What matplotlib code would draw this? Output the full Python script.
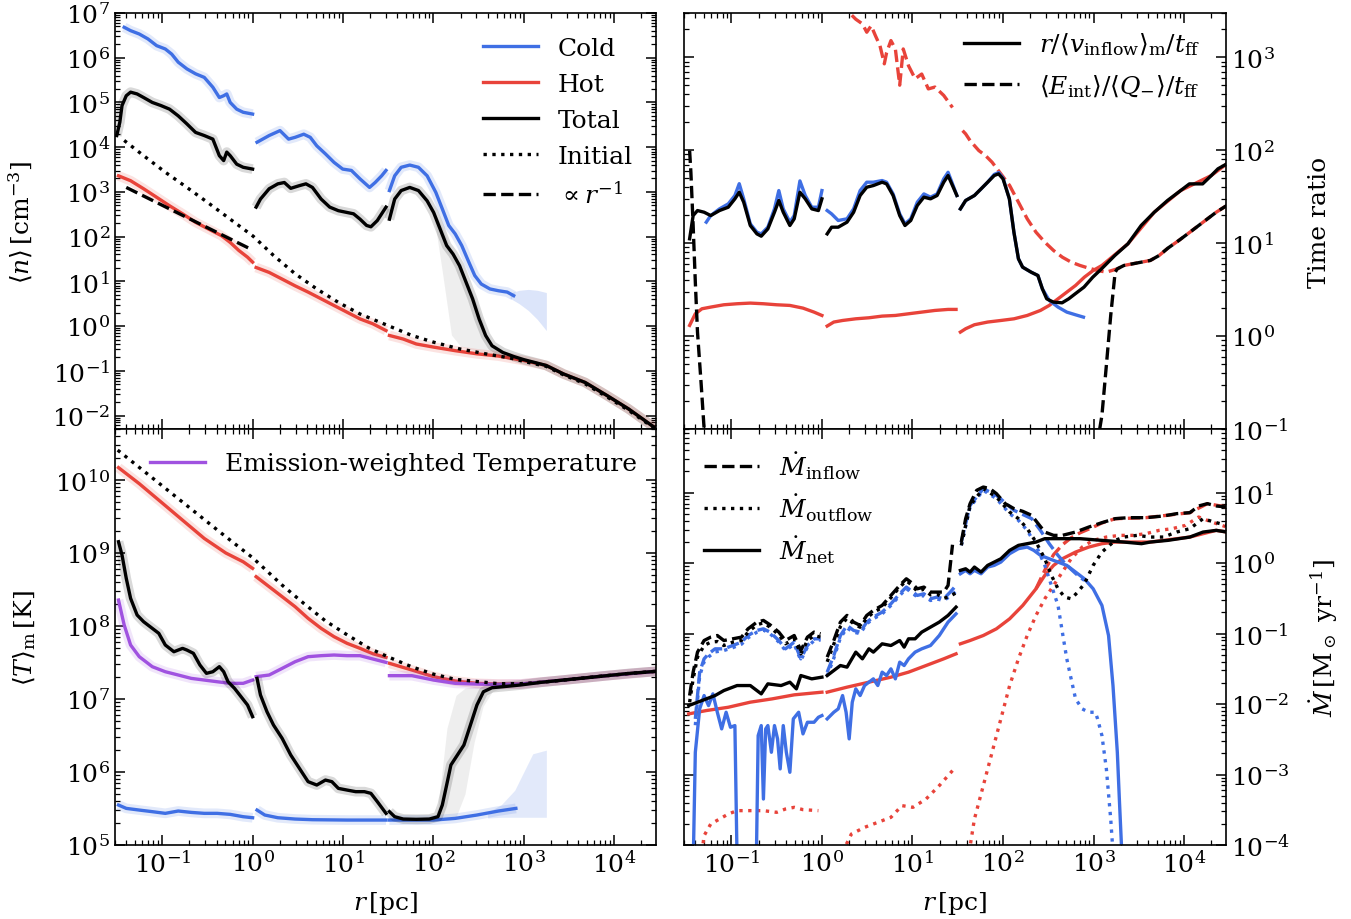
import numpy as np
import matplotlib
matplotlib.use('Agg')
import matplotlib.pyplot as plt
from matplotlib.ticker import LogLocator, NullFormatter, FixedLocator

plt.rcParams['font.family'] = ['DejaVu Serif']
plt.rcParams['mathtext.fontset'] = 'dejavuserif'
plt.rcParams['axes.linewidth'] = 1.2

BLUE = '#3f6fe4'
RED = '#e8433a'
PURPLE = '#a052e0'
FS = 18

# all values below are log10(r [pc]) and log10(quantity)
# zones: a = 0.03-1 pc, b = 1-30 pc, c = 30 pc - 3e4 pc

# ---- density <n> ----
n_cold_a_x = [-1.421, -1.35, -1.254, -1.158, -1.062, -0.966, -0.895, -0.823, -0.727, -0.631, -0.535, -0.44, -0.368, -0.32, -0.286, -0.248, -0.176, -0.104, 0.0]
n_cold_a_y = [6.68, 6.605, 6.53, 6.42, 6.27, 6.195, 6.08, 5.90, 5.75, 5.64, 5.56, 5.34, 5.11, 5.15, 5.19, 5.0, 4.85, 4.78, 4.74]
n_cold_b_x = [0.049, 0.183, 0.303, 0.398, 0.47, 0.566, 0.638, 0.71, 0.806, 0.901, 0.997, 1.093, 1.189, 1.294, 1.356, 1.428, 1.476]
n_cold_b_y = [4.11, 4.26, 4.37, 4.18, 4.22, 4.29, 4.22, 4.03, 3.85, 3.66, 3.51, 3.48, 3.29, 3.10, 3.21, 3.36, 3.48]
n_cold_c_x = [1.514, 1.572, 1.644, 1.739, 1.835, 1.931, 2.027, 2.099, 2.17, 2.242, 2.314, 2.386, 2.458, 2.53, 2.626, 2.721, 2.817, 2.889]
n_cold_c_y = [3.03, 3.36, 3.55, 3.60, 3.55, 3.36, 2.99, 2.62, 2.25, 2.06, 1.80, 1.46, 1.13, 0.94, 0.83, 0.79, 0.76, 0.68]
n_cold_band_x = [2.85, 2.95, 3.05, 3.15, 3.25]
n_cold_band_lo = [0.62, 0.5, 0.35, 0.15, -0.1]
n_cold_band_hi = [0.74, 0.8, 0.82, 0.8, 0.75]

n_tot_a_x = [-1.503, -1.469, -1.445, -1.398, -1.35, -1.278, -1.206, -1.11, -1.014, -0.919, -0.823, -0.727, -0.631, -0.535, -0.44, -0.368, -0.32, -0.286, -0.248, -0.176, -0.104, 0.0]
n_tot_a_y = [4.26, 4.56, 4.93, 5.15, 5.23, 5.19, 5.11, 5.0, 4.93, 4.85, 4.70, 4.52, 4.33, 4.26, 4.18, 3.81, 3.70, 3.89, 3.81, 3.62, 3.55, 3.51]
n_tot_b_x = [0.039, 0.087, 0.183, 0.279, 0.351, 0.422, 0.518, 0.59, 0.662, 0.758, 0.853, 0.949, 1.045, 1.117, 1.189, 1.261, 1.309, 1.38, 1.476]
n_tot_b_y = [2.66, 2.84, 3.07, 3.18, 3.21, 3.08, 3.14, 3.18, 3.10, 2.84, 2.66, 2.58, 2.54, 2.51, 2.39, 2.25, 2.22, 2.36, 2.66]
n_tot_c_x = [1.514, 1.572, 1.644, 1.739, 1.835, 1.931, 2.003, 2.075, 2.147, 2.218, 2.29, 2.362, 2.434, 2.506, 2.578, 2.649, 2.769, 2.889, 3.0, 3.248, 3.44, 3.679, 3.919, 4.158, 4.47]
n_tot_c_y = [2.39, 2.84, 3.03, 3.10, 3.03, 2.80, 2.54, 2.17, 1.80, 1.61, 1.35, 0.98, 0.61, 0.16, -0.21, -0.44, -0.59, -0.68, -0.75, -0.88, -1.07, -1.26, -1.55, -1.85, -2.30]
n_tot_band_x = [2.0, 2.1, 2.2, 2.3, 2.4, 2.5, 2.6, 2.7, 2.8]
n_tot_band_lo = [2.54, 1.2, -0.2, -0.45, -0.52, -0.56, -0.6, -0.64, -0.68]
n_tot_band_hi = [2.6, 2.2, 1.7, 1.3, 0.9, 0.4, -0.25, -0.55, -0.62]

n_hot_a_x = [-1.484, -1.35, -1.206, -1.062, -0.919, -0.775, -0.631, -0.488, -0.344, -0.248, -0.152, -0.056, 0.0]
n_hot_a_y = [3.36, 3.25, 3.07, 2.88, 2.69, 2.51, 2.32, 2.17, 2.02, 1.87, 1.69, 1.54, 1.43]
n_hot_b_x = [0.039, 0.183, 0.327, 0.47, 0.614, 0.758, 0.901, 1.045, 1.189, 1.332, 1.476]
n_hot_b_y = [1.31, 1.20, 1.05, 0.90, 0.76, 0.61, 0.46, 0.31, 0.16, 0.05, -0.10]
n_hot_c_x = [1.514, 1.667, 1.811, 2.003, 2.242, 2.482, 2.721, 3.0, 3.248, 3.44, 3.679, 3.919, 4.158, 4.47]
n_hot_c_y = [-0.21, -0.29, -0.40, -0.47, -0.55, -0.62, -0.67, -0.77, -0.88, -1.07, -1.26, -1.55, -1.85, -2.30]

n_init_x = [-1.421, -1.206, -0.966, -0.727, -0.488, -0.248, 0.006, 0.231, 0.47, 0.71, 0.949, 1.189, 1.476, 1.763, 2.003, 2.29, 2.578, 2.865, 3.0, 3.248, 3.44, 3.679, 3.919, 4.158, 4.47]
n_init_y = [4.15, 3.81, 3.44, 3.10, 2.75, 2.39, 2.01, 1.58, 1.17, 0.83, 0.53, 0.27, 0.03, -0.21, -0.36, -0.51, -0.62, -0.72, -0.79, -0.90, -1.09, -1.29, -1.58, -1.88, -2.32]
n_pow_x = [-1.398, 0.0]
n_pow_y = [3.10, 1.70]

# ---- time ratios ----
t_in_a_x = [-1.461, -1.422, -1.374, -1.301, -1.228, -1.131, -1.034, -0.961, -0.913, -0.864, -0.791, -0.718, -0.67, -0.597, -0.524, -0.476, -0.427, -0.354, -0.306, -0.243, -0.184, -0.112, -0.039, 0.0]
t_in_a_y = [1.047, 1.297, 1.351, 1.333, 1.297, 1.351, 1.387, 1.477, 1.548, 1.441, 1.19, 1.10, 1.075, 1.154, 1.333, 1.459, 1.333, 1.19, 1.262, 1.548, 1.477, 1.369, 1.351, 1.477]
t_in_cold_a_x = [-1.277, -1.228, -1.131, -1.034, -0.961, -0.913, -0.864, -0.791, -0.718, -0.67, -0.597, -0.524, -0.476, -0.427, -0.354, -0.306, -0.243, -0.184, -0.112, -0.039, 0.0]
t_in_cold_a_y = [1.226, 1.297, 1.369, 1.423, 1.513, 1.64, 1.477, 1.208, 1.118, 1.10, 1.172, 1.369, 1.566, 1.369, 1.226, 1.297, 1.67, 1.513, 1.387, 1.387, 1.566]
t_in_b_x = [0.058, 0.107, 0.18, 0.277, 0.35, 0.422, 0.495, 0.568, 0.665, 0.714, 0.786, 0.859, 0.917, 0.981, 1.053, 1.126, 1.199, 1.272, 1.345, 1.393, 1.442, 1.49]
t_in_b_y = [1.10, 1.172, 1.172, 1.226, 1.333, 1.513, 1.602, 1.62, 1.656, 1.638, 1.513, 1.297, 1.19, 1.244, 1.405, 1.495, 1.477, 1.513, 1.656, 1.728, 1.62, 1.513]
t_in_cold_b_y = [1.351, 1.315, 1.244, 1.262, 1.369, 1.566, 1.656, 1.656, 1.674, 1.656, 1.53, 1.315, 1.208, 1.262, 1.441, 1.53, 1.495, 1.53, 1.692, 1.763, 1.638, 1.513]
t_in_c_x = [1.529, 1.587, 1.684, 1.757, 1.83, 1.903, 1.951, 2.0, 2.07, 2.12, 2.17, 2.216, 2.31, 2.385, 2.434, 2.482, 2.555, 2.652, 2.725, 2.797, 2.894, 2.991, 3.088, 3.234, 3.379, 3.525, 3.67, 3.816, 3.961, 4.058, 4.204, 4.3, 4.373, 4.47]
t_in_c_y = [1.369, 1.459, 1.513, 1.584, 1.656, 1.728, 1.746, 1.692, 1.477, 1.118, 0.832, 0.742, 0.688, 0.652, 0.509, 0.401, 0.366, 0.358, 0.401, 0.455, 0.527, 0.634, 0.724, 0.867, 0.993, 1.19, 1.333, 1.459, 1.566, 1.638, 1.638, 1.728, 1.80, 1.853]
t_in_cold_c_x = [1.529, 1.587, 1.684, 1.757, 1.83, 1.903, 1.951, 2.0, 2.07, 2.12, 2.17, 2.216, 2.31, 2.385, 2.434, 2.51, 2.607, 2.704, 2.801, 2.888]
t_in_cold_c_y = [1.369, 1.459, 1.513, 1.584, 1.656, 1.74, 1.76, 1.70, 1.477, 1.118, 0.832, 0.742, 0.688, 0.652, 0.509, 0.384, 0.312, 0.258, 0.229, 0.204]
t_in_hot_a_x = [-1.461, -1.398, -1.325, -1.228, -1.083, -0.937, -0.791, -0.646, -0.5, -0.354, -0.209, -0.087, 0.0]
t_in_hot_a_y = [0.115, 0.24, 0.294, 0.312, 0.337, 0.348, 0.355, 0.348, 0.337, 0.33, 0.301, 0.258, 0.222]
t_in_hot_b_x = [0.058, 0.131, 0.228, 0.374, 0.519, 0.665, 0.811, 0.956, 1.102, 1.248, 1.393, 1.481]
t_in_hot_b_y = [0.108, 0.151, 0.168, 0.186, 0.197, 0.215, 0.222, 0.24, 0.258, 0.276, 0.287, 0.287]
t_in_hot_c_x = [1.529, 1.587, 1.684, 1.83, 1.976, 2.121, 2.267, 2.413, 2.51, 2.607, 2.704, 2.801, 2.898, 2.995, 3.092, 3.379, 3.67, 3.961, 4.3, 4.47]
t_in_hot_c_y = [0.043, 0.079, 0.122, 0.151, 0.168, 0.186, 0.222, 0.276, 0.33, 0.401, 0.473, 0.545, 0.634, 0.706, 0.76, 0.993, 1.333, 1.566, 1.728, 1.853]

t_cool_a_x = [-1.461, -1.447, -1.422, -1.398, -1.374, -1.335, -1.301, -1.28]
t_cool_a_y = [1.996, 1.763, 1.19, 0.581, 0.043, -0.495, -0.996, -1.2]
t_cool_c_x = [3.06, 3.068, 3.092, 3.141, 3.189, 3.238, 3.262, 3.335, 3.432, 3.529, 3.626, 3.723, 3.82, 3.941, 4.063, 4.209, 4.354, 4.47]
t_cool_c_y = [-1.2, -0.996, -0.853, -0.315, 0.222, 0.688, 0.724, 0.76, 0.778, 0.796, 0.814, 0.867, 0.946, 1.029, 1.118, 1.226, 1.333, 1.405]
t_cool_hot_b_x = [0.25, 0.316, 0.374, 0.447, 0.495, 0.544, 0.592, 0.641, 0.689, 0.714, 0.762, 0.811, 0.859, 0.898, 0.956, 1.029, 1.102, 1.175, 1.248, 1.345, 1.442]
t_cool_hot_b_y = [3.65, 3.466, 3.41, 3.36, 3.27, 3.34, 3.23, 3.125, 2.93, 3.05, 3.18, 3.09, 2.70, 3.09, 2.91, 2.77, 2.82, 2.66, 2.68, 2.59, 2.46]
t_cool_hot_c_x = [1.553, 1.587, 1.636, 1.684, 1.733, 1.806, 1.879, 1.976, 2.073, 2.17, 2.267, 2.364, 2.461, 2.558, 2.655, 2.752, 2.85, 2.947, 3.044, 3.141, 3.262, 3.335, 3.432, 3.529, 3.626, 3.723, 3.82, 3.941, 4.063, 4.209, 4.354, 4.47]
t_cool_hot_c_y = [2.211, 2.176, 2.104, 2.05, 1.996, 1.943, 1.871, 1.746, 1.62, 1.441, 1.262, 1.118, 1.011, 0.921, 0.849, 0.796, 0.76, 0.731, 0.706, 0.688, 0.724, 0.76, 0.778, 0.796, 0.814, 0.867, 0.946, 1.029, 1.118, 1.226, 1.333, 1.405]

# ---- temperature <T>_m ----
t_init_x = [-1.493, -1.11, -0.727, -0.344, 0.006, 0.327, 0.566, 0.806, 1.045, 1.284, 1.476, 1.763, 2.003, 2.242, 2.482, 2.721, 2.961, 3.2, 3.44, 3.679, 3.919, 4.158, 4.469]
t_init_y = [10.41, 10.03, 9.65, 9.27, 8.93, 8.56, 8.31, 8.07, 7.88, 7.70, 7.59, 7.44, 7.34, 7.27, 7.24, 7.21, 7.21, 7.23, 7.26, 7.29, 7.32, 7.35, 7.38]
t_hot_a_x = [-1.484, -1.254, -1.014, -0.775, -0.535, -0.296, -0.104, 0.0]
t_hot_a_y = [10.17, 9.95, 9.70, 9.45, 9.20, 9.0, 8.88, 8.79]
t_hot_b_x = [0.039, 0.183, 0.327, 0.47, 0.614, 0.758, 0.901, 1.045, 1.189, 1.332, 1.476]
t_hot_b_y = [8.676, 8.539, 8.402, 8.265, 8.105, 7.968, 7.854, 7.763, 7.694, 7.62, 7.57]
t_hot_c_x = [1.514, 1.763, 2.003, 2.242, 2.482, 2.721, 2.961, 3.44, 3.919, 4.469]
t_hot_c_y = [7.489, 7.397, 7.306, 7.247, 7.215, 7.205, 7.205, 7.26, 7.32, 7.38]
t_ew_a_x = [-1.484, -1.421, -1.35, -1.254, -1.11, -0.966, -0.823, -0.679, -0.535, -0.392, -0.248, -0.104, 0.0]
t_ew_a_y = [8.356, 8.014, 7.74, 7.58, 7.443, 7.374, 7.329, 7.283, 7.26, 7.237, 7.215, 7.215, 7.26]
t_ew_b_x = [0.039, 0.183, 0.327, 0.47, 0.614, 0.758, 0.901, 1.045, 1.189, 1.332, 1.476]
t_ew_b_y = [7.306, 7.329, 7.42, 7.511, 7.58, 7.594, 7.603, 7.594, 7.594, 7.548, 7.502]
t_ew_c_x = [1.514, 1.763, 2.003, 2.242, 2.482, 2.721, 2.961, 3.44, 3.919, 4.469]
t_ew_c_y = [7.32, 7.32, 7.26, 7.215, 7.205, 7.20, 7.205, 7.26, 7.32, 7.38]
t_tot_a_x = [-1.484, -1.445, -1.398, -1.35, -1.278, -1.206, -1.11, -1.038, -0.966, -0.871, -0.775, -0.727, -0.655, -0.583, -0.511, -0.44, -0.368, -0.32, -0.272, -0.2, -0.128, -0.056, 0.0]
t_tot_a_y = [9.155, 8.973, 8.653, 8.379, 8.151, 8.059, 7.968, 7.9, 7.74, 7.648, 7.694, 7.671, 7.626, 7.466, 7.352, 7.374, 7.443, 7.374, 7.237, 7.146, 7.032, 6.918, 6.758]
t_tot_b_x = [0.049, 0.087, 0.159, 0.231, 0.327, 0.422, 0.518, 0.614, 0.71, 0.806, 0.877, 0.949, 1.045, 1.141, 1.237, 1.309, 1.38, 1.476]
t_tot_b_y = [7.283, 7.055, 6.826, 6.644, 6.461, 6.233, 6.05, 5.868, 5.822, 5.89, 5.868, 5.776, 5.753, 5.731, 5.731, 5.708, 5.594, 5.434]
t_tot_c_x = [1.514, 1.572, 1.667, 1.811, 1.955, 2.051, 2.099, 2.147, 2.194, 2.266, 2.338, 2.41, 2.482, 2.554, 2.649, 2.769, 2.961, 3.2, 3.44, 3.679, 3.919, 4.158, 4.469]
t_tot_c_y = [5.457, 5.388, 5.356, 5.352, 5.356, 5.388, 5.548, 5.822, 6.096, 6.233, 6.37, 6.644, 6.918, 7.1, 7.155, 7.169, 7.192, 7.23, 7.26, 7.29, 7.32, 7.35, 7.38]
t_tot_band_x = [2.0, 2.05, 2.15, 2.25, 2.35, 2.45, 2.55, 2.65, 2.75, 2.85]
t_tot_band_lo = [5.35, 5.35, 5.35, 5.38, 5.7, 6.4, 6.9, 7.1, 7.15, 7.17]
t_tot_band_hi = [5.36, 5.5, 6.6, 7.05, 7.15, 7.17, 7.17, 7.17, 7.17, 7.18]
t_cold_a_x = [-1.484, -1.398, -1.254, -1.11, -0.966, -0.823, -0.679, -0.535, -0.392, -0.248, -0.104, 0.0]
t_cold_a_y = [5.548, 5.502, 5.479, 5.457, 5.434, 5.466, 5.447, 5.434, 5.434, 5.42, 5.388, 5.374]
t_cold_b_x = [0.049, 0.135, 0.279, 0.47, 0.662, 1.045, 1.476]
t_cold_b_y = [5.479, 5.411, 5.374, 5.356, 5.347, 5.342, 5.342]
t_cold_c_x = [1.514, 1.763, 2.003, 2.242, 2.482, 2.721, 2.913]
t_cold_c_y = [5.342, 5.342, 5.342, 5.365, 5.411, 5.466, 5.502]
t_cold_band_x = [2.6, 2.75, 2.9, 3.0, 3.1, 3.25]
t_cold_band_lo = [5.37, 5.38, 5.38, 5.38, 5.38, 5.38]
t_cold_band_hi = [5.45, 5.55, 5.75, 6.0, 6.25, 6.3]

# ---- mass flow rates ----
m_in_a_x = [-1.461, -1.422, -1.374, -1.301, -1.228, -1.155, -1.083, -0.985, -0.888, -0.816, -0.718, -0.646, -0.573, -0.476, -0.403, -0.306, -0.233, -0.16, -0.087, -0.015]
m_in_a_y = [-1.879, -1.547, -1.263, -1.098, -1.05, -1.027, -1.098, -1.074, -1.05, -0.932, -0.837, -0.813, -0.875, -0.979, -1.098, -1.027, -1.24, -1.05, -0.979, -1.003]
m_out_a_y = [-1.974, -1.642, -1.334, -1.169, -1.121, -1.112, -1.169, -1.121, -1.098, -0.979, -0.875, -0.847, -0.908, -1.017, -1.145, -1.074, -1.287, -1.098, -1.027, -1.05]
m_in_cold_a_x = [-1.398, -1.35, -1.301, -1.252, -1.18, -1.083, -0.985, -0.888, -0.816, -0.718, -0.646, -0.573, -0.476, -0.403, -0.306, -0.233, -0.16, -0.087, -0.015]
m_in_cold_a_y = [-2.21, -1.547, -1.358, -1.287, -1.216, -1.216, -1.169, -1.121, -1.027, -0.955, -0.932, -0.979, -1.098, -1.216, -1.121, -1.358, -1.169, -1.074, -1.074]
m_out_cold_a_y = [-2.3, -1.6, -1.4, -1.33, -1.26, -1.24, -1.2, -1.15, -1.06, -0.98, -0.95, -1.0, -1.12, -1.24, -1.15, -1.38, -1.19, -1.1, -1.09]
m_net_a_x = [-1.471, -1.18, -1.083, -0.937, -0.791, -0.67, -0.597, -0.451, -0.354, -0.282, -0.233, -0.112, 0.0]
m_net_a_y = [-2.021, -1.879, -1.808, -1.737, -1.737, -1.855, -1.713, -1.737, -1.689, -1.784, -1.595, -1.642, -1.618]
m_net_hot_a_x = [-1.471, -1.277, -1.034, -0.791, -0.549, -0.306, 0.0]
m_net_hot_a_y = [-2.139, -2.092, -2.045, -1.973, -1.926, -1.869, -1.831]
m_net_cold_a_x = [-1.432, -1.398, -1.35, -1.301, -1.252, -1.204, -1.155, -1.107, -1.058, -1.01, -0.961, -0.927, -0.733, -0.704, -0.67, -0.646, -0.621, -0.597, -0.558, -0.524, -0.49, -0.461, -0.427, -0.393, -0.354, -0.316, -0.257, -0.209, -0.16, -0.087, -0.039, 0.0]
m_net_cold_a_y = [-5, -2.684, -2.068, -1.879, -2.021, -1.855, -2.116, -2.352, -2.116, -2.329, -2.305, -5, -5, -2.447, -2.305, -3.347, -2.352, -2.305, -2.684, -2.305, -2.494, -2.92, -2.305, -2.684, -2.968, -2.21, -2.116, -2.423, -2.258, -2.258, -2.187, -2.163]
m_out_hot_a_x = [-1.325, -1.301, -1.228, -1.131, -1.034, -0.937, -0.791, -0.646, -0.5, -0.403, -0.306, -0.209, -0.039]
m_out_hot_a_y = [-4.1, -3.867, -3.702, -3.631, -3.56, -3.512, -3.512, -3.512, -3.536, -3.489, -3.465, -3.498, -3.512]

m_in_b_x = [0.058, 0.131, 0.204, 0.277, 0.35, 0.422, 0.495, 0.568, 0.665, 0.762, 0.859, 0.932, 0.981, 1.053, 1.126, 1.199, 1.272, 1.345, 1.393, 1.442]
m_in_b_y = [-1.334, -1.098, -0.837, -0.742, -0.837, -0.884, -0.742, -0.671, -0.6, -0.458, -0.316, -0.222, -0.269, -0.364, -0.34, -0.411, -0.411, -0.411, -0.316, 0.261]
m_out_b_x = [0.058, 0.131, 0.204, 0.277, 0.35, 0.422, 0.495, 0.568, 0.665, 0.762, 0.859, 0.932, 0.981, 1.053, 1.126, 1.199, 1.272, 1.345, 1.417, 1.481]
m_out_b_y = [-1.40, -1.15, -0.90, -0.78, -0.86, -0.91, -0.78, -0.70, -0.63, -0.49, -0.34, -0.25, -0.30, -0.40, -0.37, -0.45, -0.44, -0.50, -0.47, -0.42]
m_in_cold_b_y = [-1.547, -1.311, -1.027, -0.884, -0.955, -0.979, -0.837, -0.766, -0.695, -0.577, -0.435, -0.34, -0.387, -0.458, -0.435, -0.506, -0.482, -0.506, -0.411, -0.316]
m_out_cold_b_y = [-1.6, -1.35, -1.06, -0.92, -0.98, -1.0, -0.86, -0.79, -0.72, -0.6, -0.46, -0.36, -0.41, -0.48, -0.46, -0.53, -0.51, -0.53, -0.47, -0.40]
m_net_b_x = [0.058, 0.131, 0.204, 0.277, 0.374, 0.447, 0.519, 0.568, 0.665, 0.762, 0.859, 0.908, 0.956, 1.029, 1.102, 1.199, 1.296, 1.393, 1.481]
m_net_b_y = [-1.595, -1.524, -1.453, -1.476, -1.263, -1.358, -1.216, -1.263, -1.145, -1.169, -1.098, -1.192, -1.074, -1.074, -0.979, -0.908, -0.837, -0.742, -0.624]
m_net_cold_b_x = [0.058, 0.131, 0.18, 0.228, 0.267, 0.301, 0.335, 0.374, 0.422, 0.471, 0.519, 0.568, 0.617, 0.665, 0.714, 0.762, 0.811, 0.859, 0.908, 0.956, 1.029, 1.102, 1.199, 1.296, 1.393, 1.481]
m_net_cold_b_y = [-2.21, -2.116, -2.068, -1.879, -2.116, -2.494, -1.974, -1.784, -1.879, -1.737, -1.689, -1.642, -1.737, -1.547, -1.595, -1.5, -1.642, -1.405, -1.453, -1.358, -1.263, -1.216, -1.169, -1.027, -0.837, -0.719]
m_net_hot_b_x = [0.058, 0.277, 0.519, 0.762, 0.956, 1.15, 1.345, 1.481]
m_net_hot_b_y = [-1.831, -1.76, -1.689, -1.618, -1.547, -1.453, -1.358, -1.287]
m_out_hot_b_x = [0.228, 0.325, 0.471, 0.617, 0.762, 0.883, 1.005, 1.15, 1.296, 1.442]
m_out_hot_b_y = [-4.1, -3.844, -3.749, -3.678, -3.607, -3.441, -3.465, -3.347, -3.157, -2.944]

m_in_c_x = [1.539, 1.587, 1.636, 1.709, 1.782, 1.854, 1.927, 2.024, 2.121, 2.218, 2.316, 2.388, 2.461, 2.558, 2.655, 2.801, 2.947, 3.092, 3.238, 3.383, 3.578, 3.772, 3.917, 4.063, 4.16, 4.257, 4.354, 4.47]
m_in_c_y = [0.299, 0.631, 0.844, 1.033, 1.08, 1.057, 0.986, 0.844, 0.773, 0.735, 0.678, 0.56, 0.441, 0.394, 0.394, 0.441, 0.512, 0.574, 0.631, 0.645, 0.645, 0.669, 0.702, 0.716, 0.811, 0.844, 0.811, 0.796]
m_out_c_x = [1.539, 1.636, 1.782, 1.927, 2.073, 2.17, 2.267, 2.364, 2.461, 2.534, 2.607, 2.68, 2.752, 2.825, 2.898, 2.995, 3.092, 3.238, 3.335, 3.48, 3.626, 3.772, 3.917, 4.063, 4.209, 4.33, 4.47]
m_out_c_y = [0.252, 0.82, 1.057, 0.938, 0.725, 0.631, 0.489, 0.299, 0.062, -0.174, -0.364, -0.482, -0.506, -0.411, -0.293, -0.032, 0.157, 0.323, 0.37, 0.394, 0.37, 0.37, 0.441, 0.489, 0.631, 0.583, 0.536]
m_in_cold_c_x = [1.539, 1.636, 1.782, 1.927, 2.121, 2.316, 2.413, 2.51, 2.607, 2.704, 2.825, 2.898]
m_in_cold_c_y = [0.299, 0.82, 1.057, 0.962, 0.749, 0.631, 0.465, 0.276, 0.110, -0.032, -0.174, -0.245]
m_out_cold_c_x = [1.539, 1.636, 1.782, 1.927, 2.073, 2.17, 2.267, 2.364, 2.461, 2.534, 2.607, 2.655, 2.704, 2.752, 2.801, 2.874, 2.947, 3.019, 3.044, 3.092, 3.141, 3.189, 3.214]
m_out_cold_c_y = [0.252, 0.796, 1.033, 0.915, 0.702, 0.607, 0.465, 0.252, -0.032, -0.316, -0.6, -0.979, -1.358, -1.642, -1.926, -2.068, -2.116, -2.116, -2.21, -2.447, -2.92, -3.631, -4.1]
m_net_c_x = [1.529, 1.587, 1.636, 1.684, 1.757, 1.83, 1.903, 1.976, 2.073, 2.17, 2.267, 2.364, 2.461, 2.607, 2.85, 3.092, 3.335, 3.529, 3.626, 3.82, 4.063, 4.209, 4.354, 4.47]
m_net_c_y = [-0.103, -0.08, -0.127, -0.056, -0.127, -0.032, 0.015, 0.062, 0.181, 0.252, 0.276, 0.299, 0.347, 0.347, 0.347, 0.323, 0.299, 0.276, 0.299, 0.323, 0.37, 0.441, 0.465, 0.441]
m_net_cold_c_x = [1.529, 1.587, 1.636, 1.684, 1.757, 1.83, 1.903, 1.976, 2.073, 2.17, 2.267, 2.34, 2.413, 2.51, 2.607, 2.704, 2.801, 2.898, 2.995, 3.092, 3.165, 3.214, 3.262, 3.286, 3.311]
m_net_cold_c_y = [-0.151, -0.103, -0.151, -0.103, -0.151, -0.056, -0.032, 0.015, 0.134, 0.205, 0.228, 0.181, 0.11, 0.062, 0.015, -0.032, -0.127, -0.222, -0.364, -0.6, -1.027, -1.737, -2.684, -3.394, -4.1]
m_net_hot_c_x = [1.529, 1.636, 1.782, 1.927, 2.073, 2.218, 2.364, 2.461, 2.558, 2.655, 2.801, 2.947, 3.092, 3.238, 3.626, 4.063, 4.354, 4.47]
m_net_hot_c_y = [-1.145, -1.098, -1.027, -0.932, -0.79, -0.6, -0.364, -0.174, -0.032, 0.062, 0.157, 0.228, 0.276, 0.299, 0.299, 0.37, 0.465, 0.441]
m_in_hot_c_x = [2.364, 2.461, 2.558, 2.655, 2.752, 2.85, 2.995, 3.092, 3.238, 3.578, 4.063, 4.257, 4.47]
m_in_hot_c_y = [-0.364, -0.1, 0.12, 0.26, 0.36, 0.43, 0.51, 0.57, 0.63, 0.645, 0.716, 0.844, 0.796]
m_out_hot_c_x = [1.626, 1.684, 1.782, 1.879, 1.976, 2.073, 2.17, 2.267, 2.364, 2.461, 2.558, 2.655, 2.752, 2.874, 2.995, 3.141, 3.286, 3.432, 3.578, 3.723, 3.869, 4.015, 4.16, 4.306, 4.47]
m_out_hot_c_y = [-4.1, -3.631, -3.157, -2.684, -2.21, -1.737, -1.358, -1.027, -0.742, -0.506, -0.316, -0.127, 0.062, 0.228, 0.323, 0.37, 0.394, 0.394, 0.418, 0.465, 0.489, 0.536, 0.654, 0.583, 0.512]


def line(ax, lx, ly, halo=False, **kw):
    x = 10 ** np.asarray(lx)
    y = 10 ** np.asarray(ly)
    if halo:
        ax.plot(x, y, color=kw.get('color', 'k'), lw=7, alpha=0.15, solid_capstyle='butt')
    return ax.plot(x, y, **kw)


def band(ax, lx, lo, hi, color, alpha=0.13):
    ax.fill_between(10 ** np.asarray(lx), 10 ** np.asarray(lo), 10 ** np.asarray(hi),
                    color=color, alpha=alpha, lw=0)


def decades(lo, hi):
    # only the decades inside the view, so no hidden labels sit outside the axes
    return 10.0 ** np.arange(np.ceil(np.log10(lo) - 1e-9), np.floor(np.log10(hi) + 1e-9) + 1)


def style_axis(ax, ylim, right=False, bottom=False):
    xlim = (0.03, 2.9e4)
    ax.set_xscale('log')
    ax.set_yscale('log')
    ax.set_xlim(*xlim)
    ax.set_ylim(*ylim)
    ax.xaxis.set_major_locator(FixedLocator(decades(*xlim)))
    ax.yaxis.set_major_locator(FixedLocator(decades(*ylim)))
    for axis in (ax.xaxis, ax.yaxis):
        axis.set_minor_locator(LogLocator(base=10, subs=np.arange(2, 10), numticks=30))
        axis.set_minor_formatter(NullFormatter())
    ax.tick_params(which='both', direction='in', top=True, bottom=True, left=True, right=True,
                   labelsize=FS, labelleft=not right, labelright=right, labelbottom=bottom)
    ax.tick_params(which='major', length=7, width=1.1)
    ax.tick_params(which='minor', length=3.5, width=0.9)
    if right:
        ax.yaxis.set_label_position('right')
    if bottom:
        ax.set_xlabel(r'$r\,[\mathrm{pc}]$', fontsize=FS, labelpad=9)


fig = plt.figure(figsize=(13.51, 9.2), dpi=100)
ax_n = fig.add_axes([0.0851, 0.5326, 0.4004, 0.4522])
ax_t = fig.add_axes([0.0851, 0.0804, 0.4004, 0.4522])
ax_r = fig.add_axes([0.5063, 0.5326, 0.4012, 0.4522])
ax_m = fig.add_axes([0.5063, 0.0804, 0.4012, 0.4522])

LW = 2.4

# density panel
band(ax_n, n_tot_band_x, n_tot_band_lo, n_tot_band_hi, 'gray')
band(ax_n, n_cold_band_x, n_cold_band_lo, n_cold_band_hi, BLUE, alpha=0.18)
for xs, ys in [(n_cold_a_x, n_cold_a_y), (n_cold_b_x, n_cold_b_y), (n_cold_c_x, n_cold_c_y)]:
    line(ax_n, xs, ys, halo=True, color=BLUE, lw=LW)
for xs, ys in [(n_hot_a_x, n_hot_a_y), (n_hot_b_x, n_hot_b_y), (n_hot_c_x, n_hot_c_y)]:
    line(ax_n, xs, ys, halo=True, color=RED, lw=LW)
for xs, ys in [(n_tot_a_x, n_tot_a_y), (n_tot_b_x, n_tot_b_y), (n_tot_c_x, n_tot_c_y)]:
    line(ax_n, xs, ys, halo=True, color='k', lw=LW)
line(ax_n, n_init_x, n_init_y, color='k', lw=LW, ls=':')
line(ax_n, n_pow_x, n_pow_y, color='k', lw=LW, ls='--')
style_axis(ax_n, (5e-3, 1e7))
ax_n.set_ylabel(r'$\langle n\rangle\,[\mathrm{cm}^{-3}]$', fontsize=FS, labelpad=12)
h = [plt.Line2D([], [], color=BLUE, lw=LW), plt.Line2D([], [], color=RED, lw=LW),
     plt.Line2D([], [], color='k', lw=LW), plt.Line2D([], [], color='k', lw=LW, ls=':'),
     plt.Line2D([], [], color='k', lw=LW, ls='--')]
ax_n.legend(h, ['Cold', 'Hot', 'Total', 'Initial', r'$\propto r^{-1}$'], loc='upper right',
            frameon=False, fontsize=FS, handlelength=2.2, labelspacing=0.52,
            borderaxespad=0.2, bbox_to_anchor=(0.985, 0.978))

# temperature panel
band(ax_t, t_tot_band_x, t_tot_band_lo, t_tot_band_hi, 'gray')
band(ax_t, t_cold_band_x, t_cold_band_lo, t_cold_band_hi, BLUE, alpha=0.15)
for xs, ys in [(t_hot_a_x, t_hot_a_y), (t_hot_b_x, t_hot_b_y), (t_hot_c_x, t_hot_c_y)]:
    line(ax_t, xs, ys, halo=True, color=RED, lw=LW)
for xs, ys in [(t_cold_a_x, t_cold_a_y), (t_cold_b_x, t_cold_b_y), (t_cold_c_x, t_cold_c_y)]:
    line(ax_t, xs, ys, halo=True, color=BLUE, lw=LW)
for xs, ys in [(t_ew_a_x, t_ew_a_y), (t_ew_b_x, t_ew_b_y), (t_ew_c_x, t_ew_c_y)]:
    line(ax_t, xs, ys, halo=True, color=PURPLE, lw=LW)
for xs, ys in [(t_tot_a_x, t_tot_a_y), (t_tot_b_x, t_tot_b_y), (t_tot_c_x, t_tot_c_y)]:
    line(ax_t, xs, ys, halo=True, color='k', lw=LW)
line(ax_t, t_init_x, t_init_y, color='k', lw=LW, ls=':')
style_axis(ax_t, (1e5, 5e10), bottom=True)
ax_t.set_ylabel(r'$\langle T\rangle_{\mathrm{m}}\,[\mathrm{K}]$', fontsize=FS, labelpad=12)
ax_t.legend([plt.Line2D([], [], color=PURPLE, lw=LW)], ['Emission-weighted Temperature'],
            loc='upper center', frameon=False, fontsize=FS, handlelength=2.2,
            borderaxespad=0.2, bbox_to_anchor=(0.515, 0.98))

# time ratio panel
for xs, ys in [(t_in_hot_a_x, t_in_hot_a_y), (t_in_hot_b_x, t_in_hot_b_y), (t_in_hot_c_x, t_in_hot_c_y)]:
    line(ax_r, xs, ys, color=RED, lw=LW)
for xs, ys in [(t_cool_hot_b_x, t_cool_hot_b_y), (t_cool_hot_c_x, t_cool_hot_c_y)]:
    line(ax_r, xs, ys, color=RED, lw=LW, ls='--')
for xs, ys in [(t_in_cold_a_x, t_in_cold_a_y), (t_in_b_x, t_in_cold_b_y), (t_in_cold_c_x, t_in_cold_c_y)]:
    line(ax_r, xs, ys, color=BLUE, lw=LW)
for xs, ys in [(t_in_a_x, t_in_a_y), (t_in_b_x, t_in_b_y), (t_in_c_x, t_in_c_y)]:
    line(ax_r, xs, ys, color='k', lw=LW)
for xs, ys in [(t_cool_a_x, t_cool_a_y), (t_cool_c_x, t_cool_c_y)]:
    line(ax_r, xs, ys, color='k', lw=LW, ls='--')
style_axis(ax_r, (0.1, 3e3), right=True)
ax_r.set_ylabel('Time ratio', fontsize=FS, labelpad=14)
h = [plt.Line2D([], [], color='k', lw=LW), plt.Line2D([], [], color='k', lw=LW, ls='--')]
ax_r.legend(h, [r'$r/\langle v_{\mathrm{inflow}}\rangle_{\mathrm{m}}/t_{\mathrm{ff}}$',
                r'$\langle E_{\mathrm{int}}\rangle/\langle Q_{-}\rangle/t_{\mathrm{ff}}$'],
            loc='upper right', frameon=False, fontsize=FS, handlelength=2.2,
            labelspacing=0.58, borderaxespad=0.3, bbox_to_anchor=(0.985, 1.0))

# mass flow panel
for xs, ys in [(m_out_hot_a_x, m_out_hot_a_y), (m_out_hot_b_x, m_out_hot_b_y), (m_out_hot_c_x, m_out_hot_c_y)]:
    line(ax_m, xs, ys, color=RED, lw=LW, ls=':')
line(ax_m, m_in_hot_c_x, m_in_hot_c_y, color=RED, lw=LW, ls='--')
for xs, ys in [(m_net_hot_a_x, m_net_hot_a_y), (m_net_hot_b_x, m_net_hot_b_y), (m_net_hot_c_x, m_net_hot_c_y)]:
    line(ax_m, xs, ys, color=RED, lw=LW)
for xs, ys in [(m_in_cold_a_x, m_in_cold_a_y), (m_out_b_x, m_in_cold_b_y), (m_in_cold_c_x, m_in_cold_c_y)]:
    line(ax_m, xs, ys, color=BLUE, lw=LW, ls='--')
for xs, ys in [(m_in_cold_a_x, m_out_cold_a_y), (m_out_b_x, m_out_cold_b_y), (m_out_cold_c_x, m_out_cold_c_y)]:
    line(ax_m, xs, ys, color=BLUE, lw=LW, ls=':')
for xs, ys in [(m_net_cold_a_x, m_net_cold_a_y), (m_net_cold_b_x, m_net_cold_b_y), (m_net_cold_c_x, m_net_cold_c_y)]:
    line(ax_m, xs, ys, color=BLUE, lw=LW)
for xs, ys in [(m_in_a_x, m_in_a_y), (m_in_b_x, m_in_b_y), (m_in_c_x, m_in_c_y)]:
    line(ax_m, xs, ys, color='k', lw=LW, ls='--')
for xs, ys in [(m_in_a_x, m_out_a_y), (m_out_b_x, m_out_b_y), (m_out_c_x, m_out_c_y)]:
    line(ax_m, xs, ys, color='k', lw=LW, ls=':')
for xs, ys in [(m_net_a_x, m_net_a_y), (m_net_b_x, m_net_b_y), (m_net_c_x, m_net_c_y)]:
    line(ax_m, xs, ys, color='k', lw=LW)
style_axis(ax_m, (1e-4, 80), right=True, bottom=True)
ax_m.set_ylabel(r'$\dot{M}\,[\mathrm{M}_\odot\ \mathrm{yr}^{-1}]$', fontsize=FS, labelpad=12)
h = [plt.Line2D([], [], color='k', lw=LW, ls='--'), plt.Line2D([], [], color='k', lw=LW, ls=':'),
     plt.Line2D([], [], color='k', lw=LW)]
ax_m.legend(h, [r'$\dot{M}_{\mathrm{inflow}}$', r'$\dot{M}_{\mathrm{outflow}}$', r'$\dot{M}_{\mathrm{net}}$'],
            loc='upper left', frameon=False, fontsize=FS, handlelength=2.2,
            labelspacing=0.4, borderaxespad=0.4)

fig.savefig('out.png', dpi=100)
